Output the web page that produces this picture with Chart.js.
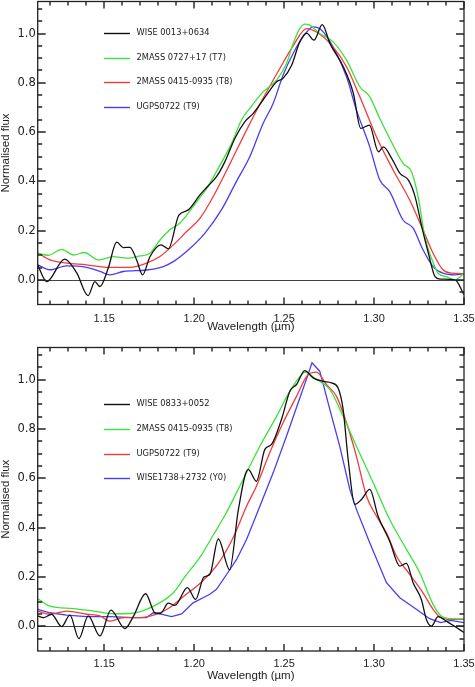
<!DOCTYPE html>
<html>
<head>
<meta charset="utf-8">
<script src="https://cdn.jsdelivr.net/npm/chart.js@4.4.1/dist/chart.umd.min.js"></script>
<style>
  html, body { margin: 0; padding: 0; background: #fff; }
  #wrap { position: relative; width: 475px; height: 687px; overflow: hidden; }
  canvas { position: absolute; left: 0; }
  #top { top: 0; }
  #bot { top: 346px; }
</style>
</head>
<body>
<div id="wrap">
  <canvas id="top" width="475" height="346"></canvas>
  <canvas id="bot" width="475" height="341"></canvas>
</div>
<script>
// axis ticks (wavelength in micron, normalised flux)
const X_TICKS = [1.15, 1.20, 1.25, 1.30, 1.35];
const Y_TICKS = [0.0, 0.2, 0.4, 0.6, 0.8, 1.0];

// ---- upper panel ----
const TOP_LABELS = ['WISE 0013+0634', '2MASS 0727+17 (T7)', '2MASS 0415-0935 (T8)', 'UGPS0722 (T9)'];

const TOP_BLACK_X = [1.113,1.118,1.128,1.1347,1.141,1.1448,1.1476,1.1522,1.1569,1.1606,1.1643,1.168,1.1713,1.1754,1.1815,1.1856,1.1915,1.1965,1.2032,1.2069,1.2124,1.2171,1.2226,1.2282,1.2328,1.2402,1.2458,1.2494,1.2541,1.2587,1.2625,1.2666,1.2712,1.2755,1.2829,1.2885,1.2926,1.2974,1.3024,1.3052,1.3098,1.3144,1.3191,1.3228,1.3265,1.3302,1.3339,1.3367,1.345,1.35];
const TOP_BLACK_Y = [0.06,-0.007,0.084,0.028,-0.064,-0.007,-0.027,0.047,0.153,0.131,0.132,0.081,0.02,0.094,0.142,0.126,0.263,0.283,0.345,0.375,0.419,0.48,0.574,0.642,0.676,0.75,0.804,0.818,0.87,0.966,1.002,0.973,1.036,0.959,0.865,0.757,0.615,0.628,0.52,0.54,0.493,0.432,0.405,0.338,0.216,0.108,0.013,0.003,0.0,-0.06];

const TOP_GREEN_X = [1.113,1.119,1.1263,1.133,1.139,1.1467,1.155,1.1624,1.1698,1.1754,1.181,1.1865,1.192,1.1994,1.2032,1.2069,1.2124,1.2208,1.2263,1.2309,1.2383,1.2458,1.2513,1.255,1.2587,1.2615,1.2643,1.2698,1.2772,1.2847,1.2921,1.2976,1.3032,1.3087,1.3161,1.3208,1.3245,1.3282,1.3319,1.3356,1.3402,1.345,1.35];
const TOP_GREEN_Y = [0.108,0.10,0.124,0.101,0.111,0.081,0.094,0.088,0.097,0.108,0.162,0.203,0.23,0.297,0.335,0.37,0.44,0.554,0.649,0.696,0.763,0.811,0.878,0.959,1.02,1.038,1.034,1.0,0.966,0.892,0.784,0.743,0.655,0.574,0.473,0.439,0.338,0.176,0.088,0.027,0.013,0.0,0.027];

const TOP_RED_X = [1.113,1.1198,1.1291,1.1402,1.1513,1.1643,1.1735,1.181,1.1884,1.1958,1.2032,1.2096,1.2198,1.2291,1.2383,1.2476,1.255,1.2625,1.268,1.2772,1.2847,1.2921,1.3013,1.3106,1.3198,1.3272,1.3328,1.3383,1.343,1.35];
const TOP_RED_Y = [0.11,0.081,0.068,0.061,0.051,0.051,0.068,0.095,0.142,0.196,0.25,0.325,0.47,0.608,0.737,0.858,0.95,1.02,1.006,0.946,0.865,0.743,0.581,0.446,0.324,0.203,0.108,0.041,0.027,0.025];

const TOP_BLUE_X = [1.113,1.1198,1.1291,1.1402,1.1476,1.1532,1.1606,1.1735,1.1828,1.1884,1.1965,1.206,1.2152,1.2235,1.2309,1.2383,1.2439,1.2494,1.255,1.2605,1.2661,1.2698,1.2772,1.2847,1.2902,1.2976,1.3032,1.3087,1.3161,1.3217,1.3272,1.3328,1.3383,1.345,1.35];
const TOP_BLUE_Y = [0.061,0.041,0.057,0.051,0.034,0.02,0.034,0.04,0.054,0.074,0.12,0.19,0.285,0.4,0.5,0.635,0.716,0.831,0.919,0.986,1.027,1.02,0.946,0.824,0.689,0.54,0.405,0.358,0.243,0.21,0.122,0.054,0.027,0.02,0.025];

// ---- lower panel ----
const BOT_LABELS = ['WISE 0833+0052', '2MASS 0415-0935 (T8)', 'UGPS0722 (T9)', 'WISE1738+2732 (Y0)'];

const BOT_BLACK_X = [1.113,1.1162,1.1207,1.1263,1.1309,1.1359,1.1411,1.1476,1.1537,1.1615,1.1661,1.173,1.1782,1.1813,1.1856,1.1893,1.1962,1.2008,1.2054,1.2087,1.2134,1.2197,1.2245,1.23,1.2346,1.2393,1.243,1.2485,1.2532,1.2569,1.2615,1.2661,1.2717,1.2763,1.28,1.2828,1.2856,1.2893,1.293,1.2976,1.3022,1.3087,1.3143,1.318,1.3217,1.3263,1.3291,1.3319,1.3356,1.3402,1.3458,1.35];
const BOT_BLACK_Y = [0.042,0.035,0.049,-0.001,0.045,-0.05,0.042,-0.039,0.066,-0.009,0.039,0.132,0.055,0.053,0.094,0.085,0.157,0.109,0.2,0.21,0.354,0.229,0.47,0.636,0.588,0.717,0.737,0.838,0.953,0.98,1.036,1.007,0.993,0.987,0.966,0.879,0.676,0.494,0.514,0.555,0.447,0.345,0.244,0.255,0.177,0.109,0.028,0.001,0.039,0.021,-0.005,-0.025];

const BOT_GREEN_X = [1.113,1.1198,1.1328,1.1439,1.155,1.1661,1.1735,1.181,1.1884,1.1948,1.2041,1.2106,1.2171,1.2272,1.2365,1.2458,1.2532,1.2597,1.2615,1.268,1.2754,1.2828,1.2902,1.2995,1.3087,1.318,1.3254,1.3328,1.3374,1.343,1.35];
const BOT_GREEN_Y = [0.112,0.082,0.072,0.062,0.051,0.053,0.069,0.096,0.136,0.2,0.29,0.37,0.45,0.595,0.73,0.851,0.953,1.02,1.03,1.0,0.96,0.851,0.73,0.582,0.433,0.312,0.217,0.089,0.042,0.031,0.03];

const BOT_RED_X = [1.113,1.1198,1.1291,1.1402,1.1476,1.1532,1.1606,1.1698,1.1791,1.1865,1.1939,1.2041,1.2134,1.2217,1.2291,1.2346,1.242,1.2494,1.2569,1.2633,1.268,1.2735,1.2791,1.2847,1.2902,1.2958,1.3013,1.3069,1.3124,1.3198,1.3272,1.3328,1.3365,1.343,1.35];
const BOT_RED_Y = [0.062,0.049,0.062,0.049,0.042,0.021,0.035,0.035,0.049,0.076,0.12,0.18,0.255,0.36,0.487,0.568,0.703,0.825,0.932,1.02,1.03,0.98,0.932,0.825,0.689,0.527,0.447,0.379,0.285,0.211,0.136,0.069,0.039,0.028,0.028];

const BOT_BLUE_X = [1.113,1.1198,1.1291,1.1402,1.1532,1.1661,1.1735,1.1772,1.181,1.1874,1.193,1.1994,1.2087,1.2124,1.218,1.2235,1.2291,1.2365,1.2439,1.2513,1.2578,1.2633,1.2655,1.2698,1.2754,1.2809,1.2865,1.2902,1.2976,1.3069,1.3143,1.3235,1.3309,1.337,1.3428,1.35];
const BOT_BLUE_Y = [0.069,0.055,0.045,0.039,0.039,0.035,0.035,0.055,0.05,0.039,0.05,0.095,0.13,0.15,0.21,0.27,0.352,0.487,0.622,0.77,0.906,1.02,1.068,1.034,0.879,0.73,0.555,0.474,0.339,0.177,0.116,0.069,0.031,0.015,0.024,0.015];

(function () {
  'use strict';

  const COLORS = ['#111111', '#3ee03e', '#f23b3b', '#4b3cf2'];
  const INK = '#222';

  function zip(xs, ys) {
    return xs.map((x, i) => ({ x: x, y: ys[i] }));
  }

  function series(label, xs, ys, color, sharp) {
    return {
      label: label,
      data: zip(xs, ys),
      borderColor: color,
      borderWidth: 1.3,
      pointRadius: 0,
      fill: false,
      cubicInterpolationMode: sharp ? 'default' : 'monotone',
      tension: 0
    };
  }

  // box, inward ticks on all four sides, zero line
  const framePlugin = {
    id: 'frame',
    beforeDatasetsDraw(chart) {
      const { ctx, chartArea: a, scales: { y } } = chart;
      const y0 = Math.round(y.getPixelForValue(0)) + 0.5;
      ctx.save();
      ctx.strokeStyle = '#444';
      ctx.lineWidth = 1;
      ctx.beginPath();
      ctx.moveTo(a.left, y0);
      ctx.lineTo(a.right, y0);
      ctx.stroke();
      ctx.restore();
    },
    afterDraw(chart) {
      const { ctx, chartArea: a, scales: { x, y } } = chart;
      ctx.save();
      ctx.strokeStyle = '#222';
      ctx.lineWidth = 1.3;
      ctx.strokeRect(a.left, a.top, a.right - a.left, a.bottom - a.top);
      ctx.beginPath();
      for (let i = 112; i <= 135; i++) {
        const px = Math.round(x.getPixelForValue(i / 100));
        const len = i % 5 === 0 ? 7 : 4;
        ctx.moveTo(px, a.bottom); ctx.lineTo(px, a.bottom - len);
        ctx.moveTo(px, a.top); ctx.lineTo(px, a.top + len);
      }
      for (let j = -1; j <= 22; j++) {
        const py = Math.round(y.getPixelForValue(j / 20));
        const len = j % 4 === 0 ? 8 : 4.5;
        ctx.moveTo(a.left, py); ctx.lineTo(a.left + len, py);
        ctx.moveTo(a.right, py); ctx.lineTo(a.right - len, py);
      }
      ctx.lineWidth = 1.4;
      ctx.stroke();
      ctx.restore();
    }
  };

  // legend drawn inside the plot box, IDL style
  const boxLegend = {
    id: 'boxLegend',
    afterDatasetsDraw(chart, args, opts) {
      const { ctx, chartArea: a } = chart;
      ctx.save();
      ctx.font = '8.3px "DejaVu Sans"';
      ctx.textBaseline = 'alphabetic';
      chart.data.datasets.forEach((ds, i) => {
        const ly = Math.round(a.top + opts.dy + i * opts.gap) + 0.5;
        const lx = a.left + opts.dx;
        ctx.strokeStyle = ds.borderColor;
        ctx.lineWidth = 1.4;
        ctx.beginPath();
        ctx.moveTo(lx, ly);
        ctx.lineTo(lx + 26, ly);
        ctx.stroke();
        ctx.fillStyle = INK;
        ctx.fillText(ds.label, lx + 32.5, ly + 1);
      });
      ctx.restore();
    }
  };

  function makePanel(canvasId, datasets, lay) {
    return new Chart(document.getElementById(canvasId), {
      type: 'line',
      data: { datasets: datasets },
      options: {
        responsive: false,
        animation: false,
        layout: { padding: { top: lay.top, right: 11, left: 0, bottom: 0 } },
        plugins: {
          legend: { display: false },
          tooltip: { enabled: false },
          boxLegend: lay.legend
        },
        scales: {
          x: {
            type: 'linear',
            min: 1.113,
            max: 1.35,
            grid: { display: false, drawTicks: false },
            border: { display: false },
            afterBuildTicks: (s) => { s.ticks = X_TICKS.map(v => ({ value: v })); },
            afterFit: (s) => { s.height = lay.xHeight; s.paddingLeft = 0; s.paddingRight = 0; },
            ticks: {
              autoSkip: false,
              maxRotation: 0,
              padding: lay.xPad,
              color: INK,
              font: { family: '"Liberation Sans", Arial', size: 11 },
              callback: (v) => Number(v).toFixed(2)
            },
            title: {
              display: true,
              text: 'Wavelength (\u00b5m)',
              color: INK,
              font: { family: '"Liberation Sans", Arial', size: 11.5 },
              padding: { top: 0, bottom: lay.titlePad }
            }
          },
          y: {
            type: 'linear',
            min: -0.1,
            max: 1.13,
            grid: { display: false, drawTicks: false },
            border: { display: false },
            afterBuildTicks: (s) => { s.ticks = Y_TICKS.map(v => ({ value: v })); },
            afterFit: (s) => { s.width = 37.7; s.paddingTop = 0; s.paddingBottom = 0; },
            ticks: {
              padding: 2,
              color: INK,
              font: { family: '"DejaVu Sans"', size: 11.5 },
              callback: (v) => Number(v).toFixed(1)
            },
            title: {
              display: true,
              text: 'Normalised flux',
              color: INK,
              font: { family: '"Liberation Sans", Arial', size: 11.5, lineHeight: 1 },
              padding: { top: 0, bottom: 0 }
            }
          }
        }
      },
      plugins: [framePlugin, boxLegend]
    });
  }

  makePanel('top', [
    series(TOP_LABELS[0], TOP_BLACK_X, TOP_BLACK_Y, COLORS[0]),
    series(TOP_LABELS[1], TOP_GREEN_X, TOP_GREEN_Y, COLORS[1]),
    series(TOP_LABELS[2], TOP_RED_X, TOP_RED_Y, COLORS[2]),
    series(TOP_LABELS[3], TOP_BLUE_X, TOP_BLUE_Y, COLORS[3])
  ], { top: 1.5, xHeight: 41.5, xPad: 8, titlePad: 12, legend: { dx: 66.3, dy: 31.8, gap: 24.5 } });

  makePanel('bot', [
    series(BOT_LABELS[0], BOT_BLACK_X, BOT_BLACK_Y, COLORS[0]),
    series(BOT_LABELS[1], BOT_GREEN_X, BOT_GREEN_Y, COLORS[1]),
    series(BOT_LABELS[2], BOT_RED_X, BOT_RED_Y, COLORS[2]),
    series(BOT_LABELS[3], BOT_BLUE_X, BOT_BLUE_Y, COLORS[3], true)
  ], { top: 1.5, xHeight: 36, xPad: 6, titlePad: 4, legend: { dx: 66.3, dy: 56.8, gap: 24.6 } });
})();
</script>
</body>
</html>
